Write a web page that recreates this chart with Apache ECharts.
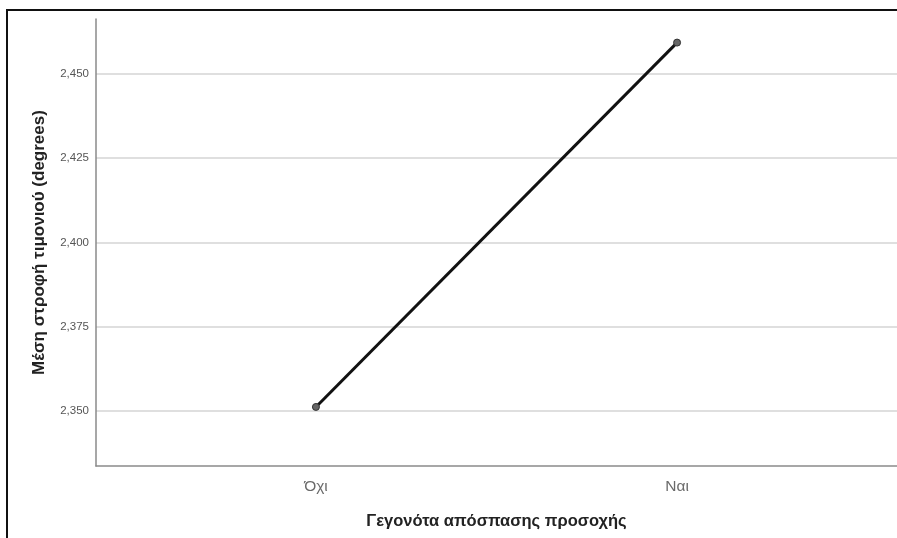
<!DOCTYPE html>
<html>
<head>
<meta charset="utf-8">
<script src="https://cdn.jsdelivr.net/npm/echarts@6/dist/echarts.min.js"></script>
<style>
  html, body { margin: 0; padding: 0; background: #fff; }
  #chart { width: 897px; height: 538px; }
</style>
</head>
<body>
<div id="chart"></div>
<script>
// Categories and mean steering values
const categories = ['Όχι', 'Ναι'];
const meanSteering = [2.3512, 2.4593];
const yTicks = [2.350, 2.375, 2.400, 2.425, 2.450];
const yTitle = 'Μέση στροφή τιμονιού (degrees)';
const xTitle = 'Γεγονότα απόσπασης προσοχής';

const fontFamily = '"Liberation Sans", Arial, sans-serif';
const fmt = v => v.toFixed(3).replace('.', ',');

const chart = echarts.init(document.getElementById('chart'), null, { renderer: 'canvas' });

chart.setOption({
  backgroundColor: '#ffffff',
  animation: false,
  graphic: [{
    type: 'rect',
    shape: { x: 7, y: 10, width: 900, height: 540 },
    style: { fill: 'none', stroke: '#111', lineWidth: 2 },
    silent: true
  }],
  grid: { left: 96, right: 0, top: 19, bottom: 72 },
  xAxis: {
    type: 'value',
    min: -0.609,
    max: 1.609,
    name: xTitle,
    nameLocation: 'middle',
    nameGap: 47,
    nameTextStyle: { fontFamily, fontSize: 16.5, fontWeight: 'bold', color: '#222' },
    axisLine: { show: true, onZero: false, lineStyle: { color: '#8a8a8a', width: 1.5 } },
    axisTick: { show: false },
    splitLine: { show: false },
    axisLabel: {
      customValues: [0, 1],
      formatter: v => categories[Math.round(v)],
      margin: 13,
      fontFamily, fontSize: 15.5, color: '#6a6a6a'
    }
  },
  yAxis: {
    type: 'value',
    min: 2.33368,
    max: 2.4663,
    name: yTitle,
    nameLocation: 'middle',
    nameGap: 48,
    nameTextStyle: { fontFamily, fontSize: 17, fontWeight: 'bold', color: '#222' },
    axisLine: { show: true, onZero: false, lineStyle: { color: '#8a8a8a', width: 1.5 } },
    axisTick: { show: false, customValues: yTicks },
    axisLabel: {
      customValues: yTicks,
      formatter: fmt,
      margin: 7,
      fontFamily, fontSize: 11.5, color: '#555'
    },
    splitLine: { show: true, lineStyle: { color: '#d4d4d4', width: 1.5 } }
  },
  series: [{
    type: 'line',
    data: meanSteering.map((v, i) => [i, v]),
    symbol: 'circle',
    symbolSize: 7,
    itemStyle: { color: '#666', borderColor: '#333', borderWidth: 1 },
    lineStyle: { color: '#111', width: 3 }
  }]
});
</script>
</body>
</html>
